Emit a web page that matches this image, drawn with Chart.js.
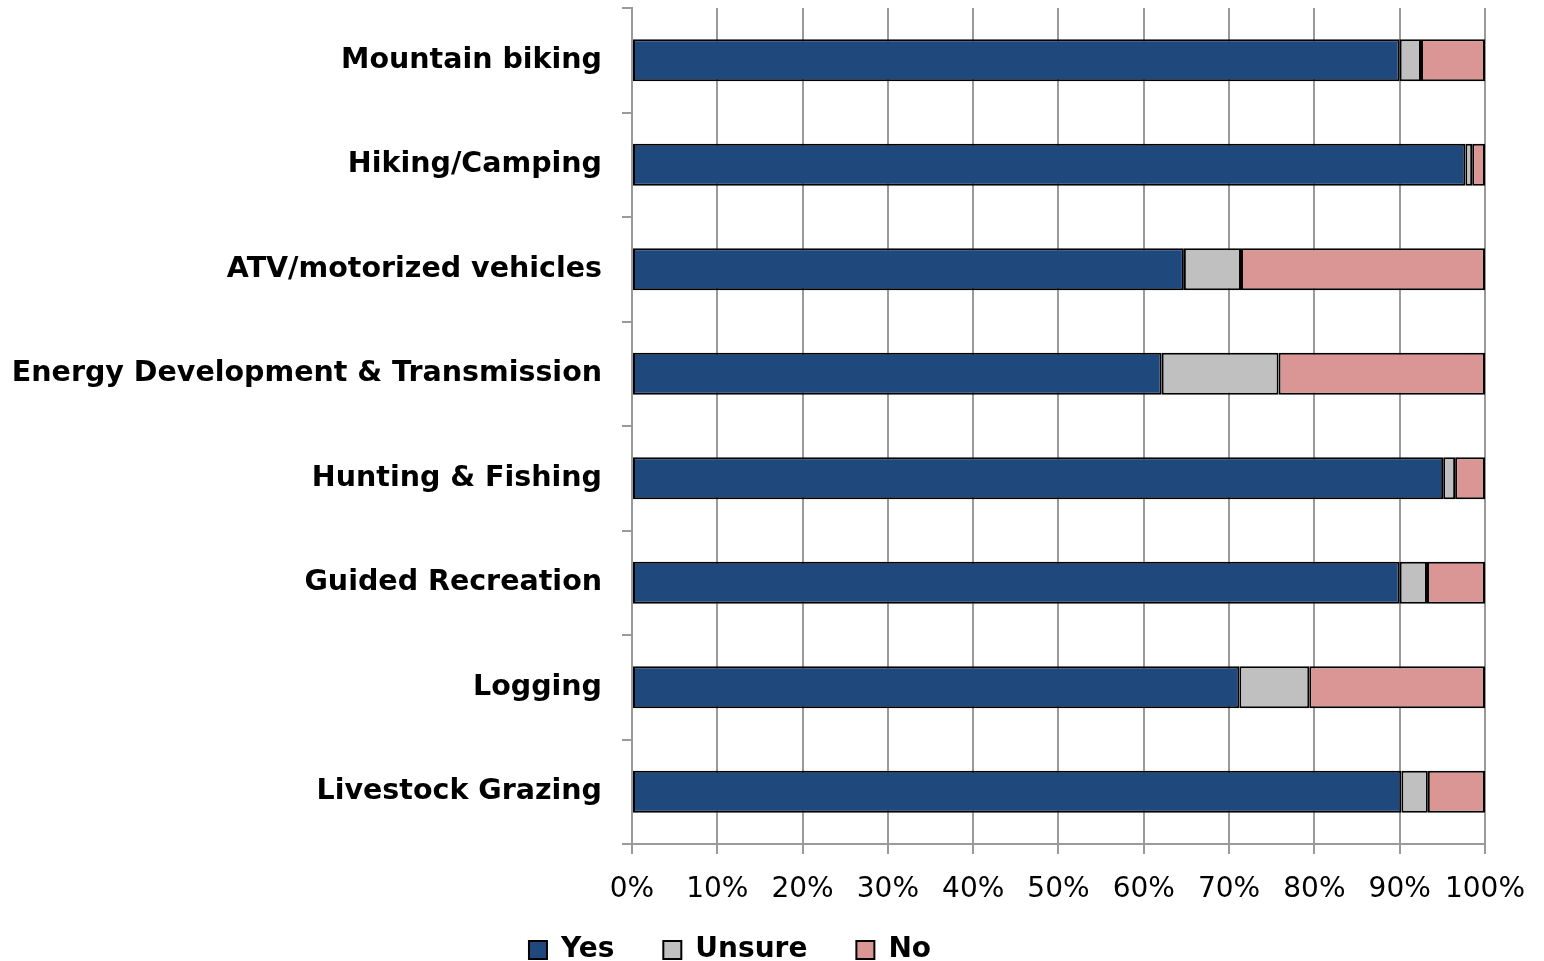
<!DOCTYPE html>
<html lang="en">
  <head>
    <meta charset="UTF-8" />
    <title>Support by activity</title>
    <script src="https://cdn.jsdelivr.net/npm/chart.js"></script>
    <style>
      html, body { margin: 0; padding: 0; background: #fff; }
      #wrap { width: 1544px; height: 961px; }
    </style>
  </head>
  <body>
    <div id="wrap"><canvas id="chart"></canvas></div>
    <script>
      const categories = [
        "Mountain biking",
        "Hiking/Camping",
        "ATV/motorized vehicles",
        "Energy Development & Transmission",
        "Hunting & Fishing",
        "Guided Recreation",
        "Logging",
        "Livestock Grazing",
      ];
      const yesValues = [90.0, 97.7, 64.7, 62.1, 95.1, 90.0, 71.2, 90.2];
      const unsureValues = [2.5, 0.8, 6.7, 13.7, 1.4, 3.2, 8.2, 3.1];
      const noValues = [7.5, 1.5, 28.6, 24.2, 3.5, 6.8, 20.6, 6.7];
      const xTicks = [0, 10, 20, 30, 40, 50, 60, 70, 80, 90, 100];

      const font = "'DejaVu Sans', Verdana, sans-serif";

      new Chart(document.getElementById("chart"), {
        type: "bar",
        data: {
          labels: categories,
          datasets: [
            { label: "Yes", data: yesValues, backgroundColor: "#1F497D" },
            { label: "Unsure", data: unsureValues, backgroundColor: "#C0C0C0" },
            { label: "No", data: noValues, backgroundColor: "#D99694" },
          ].map((d) => ({
            ...d,
            borderColor: "#000",
            borderWidth: 2,
            borderSkipped: false,
            barPercentage: 0.8,
            categoryPercentage: 0.5,
          })),
        },
        options: {
          indexAxis: "y",
          responsive: true,
          maintainAspectRatio: false,
          animation: false,
          layout: { padding: { top: 8, right: 59, left: 14, bottom: -13 } },
          plugins: {
            tooltip: { enabled: false },
            legend: {
              position: "bottom",
              labels: {
                color: "#000",
                font: { family: font, size: 28, weight: "bold" },
                boxWidth: 18,
                boxHeight: 18,
                padding: 10,
                // wider gaps between legend items
                generateLabels: (chart) =>
                  Chart.defaults.plugins.legend.labels
                    .generateLabels(chart)
                    .map((l) => ({ ...l, text: l.text + "\u00a0\u00a0\u00a0\u00a0" })),
              },
            },
          },
          scales: {
            x: {
              stacked: true,
              min: 0,
              max: 100,
              afterBuildTicks: (s) => {
                s.ticks = xTicks.map((v) => ({ value: v }));
              },
              afterFit: (s) => {
                s.height = 82;
              },
              ticks: {
                color: "#000",
                font: { family: font, size: 28 },
                padding: 19,
                maxRotation: 0,
                minRotation: 0,
                autoSkip: false,
                callback: (v) => v + "%",
              },
              grid: { color: "#9a9a9a", lineWidth: 2, tickLength: 10 },
              border: { color: "#9a9a9a", width: 2 },
            },
            y: {
              stacked: true,
              afterFit: (s) => {
                s.width = 618;
                s.paddingTop = 0;
                s.paddingBottom = 0;
              },
              ticks: {
                color: "#000",
                font: { family: font, size: 28.5, weight: "bold" },
                padding: 20,
              },
              grid: {
                offset: true,
                drawOnChartArea: false,
                color: "#9a9a9a",
                lineWidth: 2,
                tickLength: 10,
              },
              border: { color: "#9a9a9a", width: 2 },
            },
          },
        },
      });
    </script>
  </body>
</html>
